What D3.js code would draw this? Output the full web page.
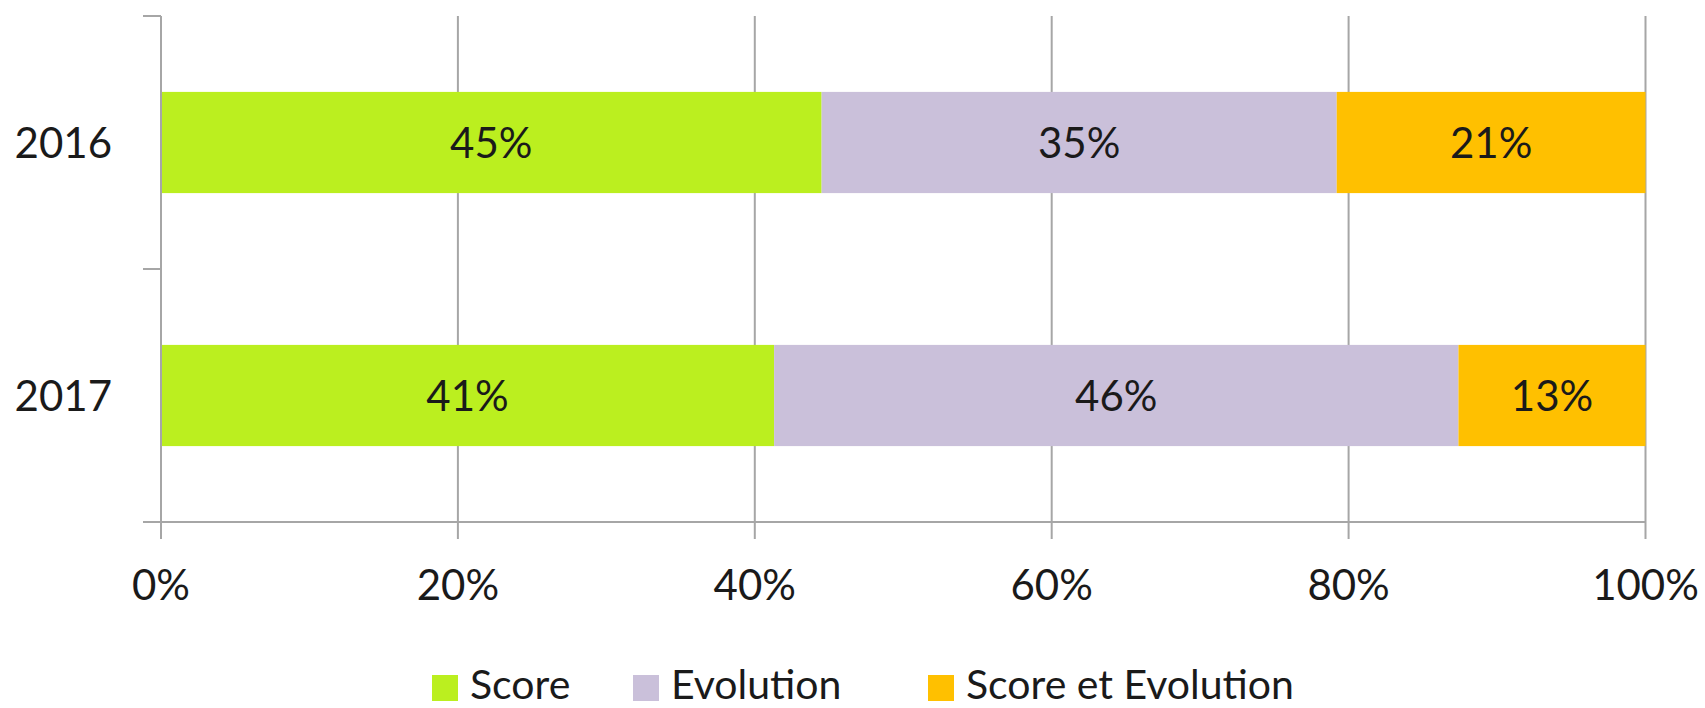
<!DOCTYPE html>
<html><head><meta charset="utf-8">
<script src="https://cdn.jsdelivr.net/npm/d3@7/dist/d3.min.js"></script>
<style>html,body{margin:0;padding:0;background:#fff;overflow:hidden}</style>
</head><body>
<svg id="c" width="1705" height="708"></svg>
<script>
const categories = ["2016", "2017"];
const seriesNames = ["Score", "Evolution", "Score et Evolution"];
const scoreValues = [0.445, 0.413];
const evolutionValues = [0.347, 0.461];
const scoreEtEvolutionValues = [0.208, 0.126];
const valueLabels = [["45%", "41%"], ["35%", "46%"], ["21%", "13%"]];
const xTicks = [0, 0.2, 0.4, 0.6, 0.8, 1.0];
const xTickLabels = ["0%", "20%", "40%", "60%", "80%", "100%"];

const colors = ["#BBEF1F", "#CAC0DA", "#FFC000"];
const font = "Lato, 'Open Sans', sans-serif";
const W = 1705, H = 708;
const m = {left: 161, right: 1645.5, top: 16, bottom: 522};

const svg = d3.select("#c");
const x = d3.scaleLinear().domain([0, 1]).range([m.left, m.right]);
const y = d3.scaleBand().domain(categories).range([m.top, m.bottom]).paddingInner(0.6).paddingOuter(0.3);

const rows = categories.map((c, i) => ({cat: c, Score: scoreValues[i], Evolution: evolutionValues[i], "Score et Evolution": scoreEtEvolutionValues[i]}));
const stacked = d3.stack().keys(seriesNames)(rows);

const grid = "#a6a6a6";
svg.append("g").selectAll("line").data(xTicks.slice(1)).join("line")
  .attr("x1", d => x(d)).attr("x2", d => x(d))
  .attr("y1", m.top).attr("y2", m.bottom + 17)
  .attr("stroke", grid).attr("stroke-width", 2);

stacked.forEach((s, si) => {
  svg.append("g").selectAll("rect").data(s).join("rect")
    .attr("x", d => x(d[0]))
    .attr("width", d => x(d[1]) - x(d[0]))
    .attr("y", d => y(d.data.cat))
    .attr("height", y.bandwidth())
    .attr("fill", colors[si]);
  svg.append("g").selectAll("text").data(s).join("text")
    .attr("x", d => (x(d[0]) + x(d[1])) / 2)
    .attr("y", d => y(d.data.cat) + y.bandwidth() / 2)
    .attr("dy", "0.36em")
    .attr("text-anchor", "middle")
    .attr("font-family", font).attr("font-size", 42).attr("fill", "#1a1a1a")
    .text((d, i) => valueLabels[si][i]);
});

svg.append("line").attr("x1", m.left).attr("x2", m.left).attr("y1", m.top).attr("y2", m.bottom + 17)
  .attr("stroke", grid).attr("stroke-width", 2);
const bounds = [m.top, (m.top + m.bottom) / 2, m.bottom];
svg.append("g").selectAll("line").data(bounds).join("line")
  .attr("x1", m.left - 18).attr("x2", m.left).attr("y1", d => d).attr("y2", d => d)
  .attr("stroke", grid).attr("stroke-width", 2);
svg.append("line").attr("x1", m.left - 18).attr("x2", m.right).attr("y1", m.bottom).attr("y2", m.bottom)
  .attr("stroke", grid).attr("stroke-width", 2);

svg.append("g").selectAll("text").data(categories).join("text")
  .attr("x", 112).attr("y", d => y(d) + y.bandwidth() / 2)
  .attr("dy", "0.36em").attr("text-anchor", "end")
  .attr("font-family", font).attr("font-size", 42).attr("fill", "#1a1a1a")
  .text(d => d);

svg.append("g").selectAll("text").data(xTicks).join("text")
  .attr("x", d => x(d)).attr("y", 585).attr("dy", "0.36em")
  .attr("text-anchor", "middle")
  .attr("font-family", font).attr("font-size", 42).attr("fill", "#1a1a1a")
  .text((d, i) => xTickLabels[i]);

const legX = [432, 633, 928];
const lg = svg.append("g").selectAll("g").data(seriesNames).join("g")
  .attr("transform", (d, i) => `translate(${legX[i]},675)`);
lg.append("rect").attr("width", 26).attr("height", 26).attr("fill", (d, i) => colors[i]);
lg.append("text").attr("x", 38).attr("y", 24)
  .attr("font-family", font).attr("font-size", 41).attr("fill", "#1a1a1a")
  .text(d => d);
</script>
</body></html>
